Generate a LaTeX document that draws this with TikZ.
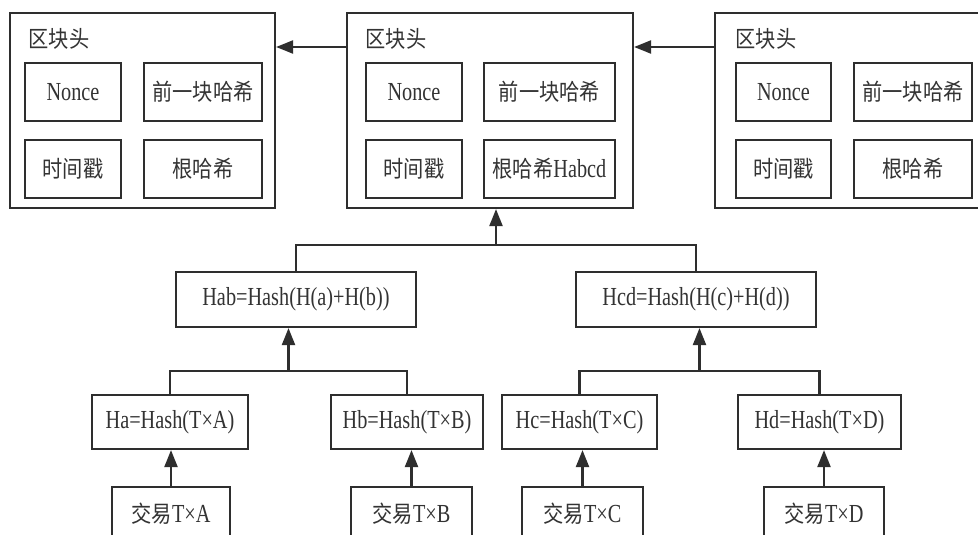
\documentclass[tikz,border=0pt]{standalone}
\usepackage{fontspec}
\setmainfont{Liberation Serif}[FakeStretch=0.78]
\newfontfamily\cjk{Noto Sans CJK SC}[FakeStretch=0.88]
\usetikzlibrary{arrows.meta,calc}
\definecolor{lncol}{HTML}{2E2E2E}
\definecolor{txcol}{HTML}{333333}
\newcommand\zhtxt[1]{{\cjk\fontsize{23}{25}\selectfont #1}}
\newcommand\bx[6]{\node[box, minimum width={(#4-#2)*1pt}, minimum height={(#5-#3)*1pt}] (#1) at ({(#2+#4)/2},{(#3+#5)/2}) {#6};}
\begin{document}
\begin{tikzpicture}[x=1pt,y=-1pt,
 box/.style={draw=lncol, line width=2.2pt, inner sep=0pt, text=txcol, font=\fontsize{26}{28}\selectfont},
 arr/.style={draw=lncol, line width=2.2pt, -{Triangle[length=17pt 0 0,width=13pt 0 0]}},
 wire/.style={draw=lncol, line width=2.2pt},
 lbl/.style={text=txcol, inner sep=0pt}]
\useasboundingbox (0,0) rectangle (978,535);
\fill[white] (0,0) rectangle (978,535);
\clip (0,0) rectangle (978,535);

% blocks
\bx{L}{10}{13}{275}{208}{}
\bx{M}{347}{13}{633}{208}{}
\bx{R}{715}{13}{1000}{208}{}
\node[lbl] (lblL) at (59,39) {\zhtxt{区块头}};
\node[lbl] (lblM) at (396,39) {\zhtxt{区块头}};
\node[lbl] (lblR) at (766,39) {\zhtxt{区块头}};

\bx{Ln}{25}{63}{121}{121}{Nonce}
\bx{Lp}{144}{63}{262}{121}{\zhtxt{前一块哈希}}
\bx{Lt}{25}{140}{121}{198}{\zhtxt{时间戳}}
\bx{Lr}{144}{140}{262}{198}{\zhtxt{根哈希}}

\bx{Mn}{366}{63}{462}{121}{Nonce}
\bx{Mp}{484}{63}{615}{121}{\zhtxt{前一块哈希}}
\bx{Mt}{366}{140}{462}{198}{\zhtxt{时间戳}}
\bx{Mr}{484}{140}{615}{198}{\zhtxt{根哈希}Habcd}

\bx{Rn}{736}{63}{831}{121}{Nonce}
\bx{Rp}{854}{63}{972}{121}{\zhtxt{前一块哈希}}
\bx{Rt}{736}{140}{831}{198}{\zhtxt{时间戳}}
\bx{Rr}{854}{140}{972}{198}{\zhtxt{根哈希}}

\coordinate (ya) at (0,47);
\draw[arr] (ya -| M.west) -- (ya -| L.east);
\draw[arr] (ya -| R.west) -- (ya -| M.east);

% hash tree
\bx{Hab}{176}{272}{416}{327}{Hab=Hash(H(a)+H(b))}
\bx{Hcd}{576}{272}{816}{327}{Hcd=Hash(H(c)+H(d))}
\bx{Ha}{92}{395}{248}{449}{Ha=Hash(T×A)}
\bx{Hb}{331}{395}{483}{449}{Hb=Hash(T×B)}
\bx{Hc}{502}{395}{657}{449}{Hc=Hash(T×C)}
\bx{Hd}{738}{395}{901}{449}{Hd=Hash(T×D)}
\bx{tA}{112}{487}{230}{541}{\zhtxt{交易}T×A}
\bx{tB}{351}{487}{472}{541}{\zhtxt{交易}T×B}
\bx{tC}{522}{487}{643}{541}{\zhtxt{交易}T×C}
\bx{tD}{764}{487}{884}{541}{\zhtxt{交易}T×D}

\coordinate (busT) at (0,245);
\coordinate (busL) at (0,371);
\draw[wire] (Hab.north) -- (Hab.north |- busT) -- (Hcd.north |- busT) -- (Hcd.north);
\coordinate (mT) at ($(Hab.north)!0.5!(Hcd.north)$);
\draw[arr] (mT |- busT) -- (mT |- M.south);

\draw[wire] (Ha.north) -- (Ha.north |- busL) -- (Hb.north |- busL) -- (Hb.north);
\coordinate (mL) at ($(Ha.north)!0.5!(Hb.north)$);
\draw[arr] (mL |- busL) -- (mL |- Hab.south);

\draw[wire] (Hc.north) -- (Hc.north |- busL) -- (Hd.north |- busL) -- (Hd.north);
\coordinate (mR) at ($(Hc.north)!0.5!(Hd.north)$);
\draw[arr] (mR |- busL) -- (mR |- Hcd.south);

\draw[arr] (tA.north) -- (tA.north |- Ha.south);
\draw[arr] (tB.north) -- (tB.north |- Hb.south);
\draw[arr] (tC.north) -- (tC.north |- Hc.south);
\draw[arr] (tD.north) -- (tD.north |- Hd.south);
\end{tikzpicture}
\end{document}
